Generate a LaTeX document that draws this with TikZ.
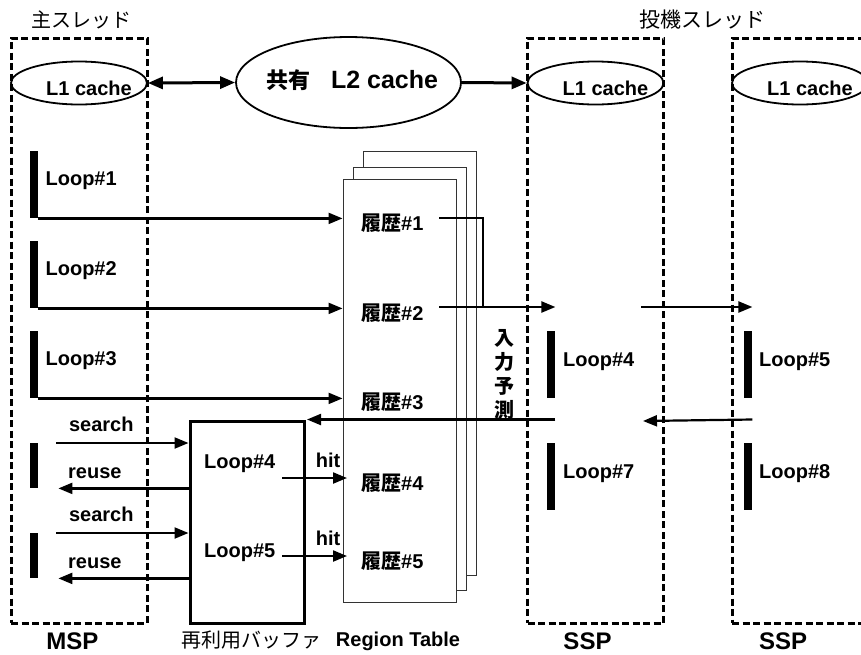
\documentclass[tikz,border=0pt]{standalone}
\usepackage{fontspec}
\setmainfont{Liberation Sans}
\newfontfamily\jp{Noto Sans CJK JP}
\usetikzlibrary{arrows.meta,positioning,shapes.geometric}

\tikzset{
  thread/.style={draw,line width=3pt,dash pattern=on 7pt off 3.5pt,minimum width=136,minimum height=585,inner sep=0},
  cache/.style={draw,ellipse,line width=1.8pt,minimum width=136,minimum height=43,inner sep=0},
  bar/.style={fill=black,minimum width=8,inner sep=0},
  sheet/.style={draw=black!80,fill=white,line width=1pt},
  conn/.style={line width=2.2pt},
  arr/.style={conn,-{Triangle[length=14pt,width=11pt]}},
  lbl/.style={inner sep=0},
  big/.style={inner sep=0,font=\fontsize{24}{28}\selectfont\bfseries},
  jptext/.style={inner sep=0,font=\fontsize{20}{24}\selectfont\jp},
}

\begin{document}
\begin{tikzpicture}[x=1pt,y=-1pt,font=\fontsize{20}{24}\selectfont\bfseries]
\useasboundingbox (0,0) rectangle (861,654);

% threads
\node[thread] (msp) at (79,330.5) {};
\node[thread] (ssp1) at (595.5,330.5) {};
\node[thread] (ssp2) at (800,330.5) {};
\node[jptext] at (81,20) {主スレッド};
\node[jptext,font=\fontsize{21}{24}\selectfont\jp] at (702,20) {投機スレッド};

% caches
\node[cache] (l1m) at (79,83) {};
\node[cache] (l1s) at (595.5,83) {};
\node[cache] (l1t) at (800,83) {};
\node[cache,minimum width=225,minimum height=91] (l2) at (348.5,82.5) {};
\foreach \c in {l1m,l1s,l1t}
  \node[lbl] at ([xshift=10,yshift=-5]\c.center) {L1 cache};
\node[lbl,anchor=base] at (352,88) {{\fontsize{22}{24}\selectfont\jp 共有}\hspace{21pt}{\fontsize{25}{28}\selectfont L2 cache}};
\draw[line width=3pt,{Triangle[length=15pt,width=12pt]}-{Triangle[length=15pt,width=12pt]}] (l1m.east) -- (l2.west);
\draw[line width=3pt,-{Triangle[length=15pt,width=12pt]}] (l2.east) -- (l1s.west);

% region table
\draw[sheet] (363,151) rectangle (476,575);
\draw[sheet] (353,167) rectangle (466,590);
\node[sheet,minimum width=113,minimum height=423,inner sep=0] (rt) at (399.5,390.5) {};
\foreach \i/\y in {1/230,2/320,3/409,4/490,5/568}
  \node[lbl,anchor=base west] (h\i) at (361,\y) {{\jp 履歴}\#\i};

% main thread loops
\foreach \i/\t in {1/151,2/241,3/331}{
  \node[bar,minimum height=67,anchor=north west] (b\i) at (30,\t) {};
  \node[lbl,anchor=base west] at ([xshift=7,yshift=-34]b\i.north east) {Loop\#\i};
  \draw[arr] (b\i.south east) -- (b\i.south east -| rt.west);
}

% reuse buffer
\node[draw,line width=3pt,minimum width=114,minimum height=202,inner sep=0] (buf) at (247,522) {};
\node[lbl,anchor=base west] at (204,468) {Loop\#4};
\node[lbl,anchor=base west] (bl5) at (204,557) {Loop\#5};
\foreach \y/\b in {443/a,533/b}{
  \node[bar,minimum height=45,anchor=north west] (s\b) at (30,\y) {};
  \draw[arr] ([xshift=18]s\b.north east) -- (s\b.north east -| buf.west)
    node[lbl,pos=0.34,above=10pt] {search};
  \draw[arr] (s\b.south east -| buf.west) -- ([xshift=20]s\b.south east)
    node[lbl,pos=0.72,above=9pt] {reuse};
}
\foreach \y in {478,556}
  \draw[arr] (282,\y) -- (347,\y) node[lbl,pos=0.71,above=9pt] {hit};

% speculative threads
\node[bar,minimum height=67,anchor=north west] (b4) at (547,331) {};
\node[bar,minimum height=67,anchor=north west] (b7) at (547,443) {};
\node[bar,minimum height=67,anchor=north west] (b5) at (744,331) {};
\node[bar,minimum height=67,anchor=north west] (b8) at (744,443) {};
\node[lbl,anchor=base west] at (563,366) {Loop\#4};
\node[lbl,anchor=base west] at (563,478) {Loop\#7};
\node[lbl,anchor=base west] at (759,366) {Loop\#5};
\node[lbl,anchor=base west] at (759,478) {Loop\#8};

% input prediction
\coordinate (j1) at (439,218);
\coordinate (j2) at (483,307);
\draw[conn] (j1) -| (j2);
\draw[arr] (439,307) -- (b4.east |- j2);
\draw[arr] (641,307) -- (b5.east |- j2);
\node[lbl,align=center,font=\fontsize{20}{24}\selectfont\jp\bfseries] at (504,374) {入\\力\\予\\測};
\draw[arr] (b5.east |- buf.north) -- (643,421);
\draw[arr] (b4.east |- buf.north) -- ([xshift=1.5]buf.north east);

% captions
\node[big,anchor=base] at (72.5,649) {MSP};
\node[jptext,anchor=base] at (251,647) {再利用バッファ};
\node[lbl,anchor=base] at (398,646) {Region Table};
\node[big,anchor=base] at (587.5,649) {SSP};
\node[big,anchor=base] at (783,649) {SSP};
\end{tikzpicture}
\end{document}
